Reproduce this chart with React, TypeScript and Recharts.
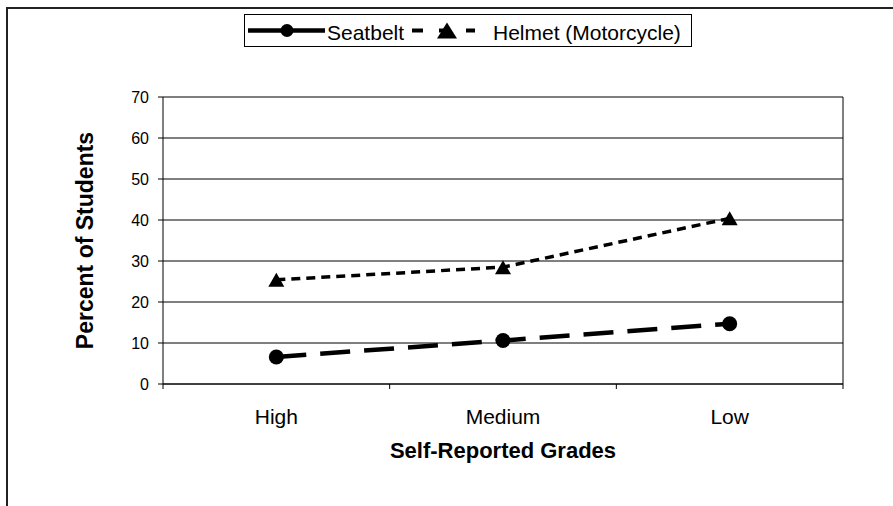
import React from 'react';
import { LineChart, Line, XAxis, YAxis, CartesianGrid, Legend } from 'recharts';

const grades = ['High', 'Medium', 'Low'];
const seatbelt = [6.6, 10.6, 14.7];
const helmet = [25.4, 28.5, 40.4];
const yTicks = [0, 10, 20, 30, 40, 50, 60, 70];
const seriesNames = ['Seatbelt', 'Helmet (Motorcycle)'];

const data = grades.map((g, i) => ({ grade: g, seatbelt: seatbelt[i], helmet: helmet[i] }));

const FONT = '"Liberation Sans", Arial, sans-serif';
const W = 893;
const H = 506;
const MARGIN = { top: 97, right: 50, left: 0, bottom: 0 };
const Y_AXIS_W = 163;
const X_AXIS_H = 122;

// category labels centred, tick marks on the band edges
const GradeTick = (props: any) => {
  const { x, y, payload, index, visibleTicksCount } = props;
  const plotW = props.width || W - Y_AXIS_W - MARGIN.right;
  const band = plotW / visibleTicksCount;
  const edge = x - band / 2;
  return (
    <g>
      <line x1={edge} x2={edge} y1={y} y2={y + 5} stroke="#000" />
      {index === visibleTicksCount - 1 && (
        <line x1={x + band / 2} x2={x + band / 2} y1={y} y2={y + 5} stroke="#000" />
      )}
      <text x={x} y={y + 40} textAnchor="middle" fontSize={21} fontFamily={FONT} fill="#000">
        {payload.value}
      </text>
    </g>
  );
};

const TriangleDot = (props: any) => {
  const { cx, cy, index } = props;
  if (cx == null || cy == null) return null;
  return (
    <polygon
      key={`tri-${index}`}
      points={`${cx},${cy - 7} ${cx + 8},${cy + 7} ${cx - 8},${cy + 7}`}
      fill="#000"
    />
  );
};

const LegendBox = () => (
  <svg width={448} height={33} style={{ display: 'block' }}>
    <rect x={0.5} y={0.5} width={447} height={32} fill="#fff" stroke="#000" />
    {/* Seatbelt */}
    <line x1={4} x2={81} y1={16.5} y2={16.5} stroke="#000" strokeWidth={4.5} />
    <circle cx={43} cy={16.5} r={6.5} fill="#000" />
    <text x={83} y={25.5} fontSize={21} fontFamily={FONT} fill="#000">{seriesNames[0]}</text>
    {/* Helmet */}
    <line x1={168} x2={231} y1={16.5} y2={16.5} stroke="#000" strokeWidth={4} strokeDasharray="11 16" />
    <polygon points="203,8.5 213,24.5 193,24.5" fill="#000" />
    <text x={249} y={25.5} fontSize={21} fontFamily={FONT} fill="#000">{seriesNames[1]}</text>
  </svg>
);

export default function App() {
  return (
    <div style={{ position: 'absolute', left: 0, top: 0, width: W, height: H, background: '#fff' }}>
      <div
        style={{
          position: 'absolute',
          left: 6,
          top: 7,
          right: 0,
          bottom: 0,
          borderTop: '2px solid #222',
          borderLeft: '2px solid #222',
        }}
      />
      <LineChart width={W} height={H} data={data} margin={MARGIN}>
        <CartesianGrid
          stroke="#000"
          verticalCoordinatesGenerator={({ offset }: any) => [offset.left + offset.width]}
        />
        <XAxis
          dataKey="grade"
          scale="band"
          height={X_AXIS_H}
          interval={0}
          axisLine={{ stroke: '#000' }}
          tickLine={false}
          tickSize={0}
          tickMargin={0}
          tick={<GradeTick />}
          label={{
            value: 'Self-Reported Grades',
            position: 'insideBottom',
            offset: 48,
            style: { fontSize: 22, fontWeight: 'bold', fontFamily: FONT, fill: '#000' },
          }}
        />
        <YAxis
          domain={[0, 70]}
          ticks={yTicks}
          interval={0}
          width={Y_AXIS_W}
          tickSize={5}
          tickMargin={9}
          axisLine={{ stroke: '#000' }}
          tickLine={{ stroke: '#000' }}
          tick={{ fontSize: 16, fill: '#000', fontFamily: FONT }}
          label={{
            value: 'Percent of Students',
            angle: -90,
            position: 'insideLeft',
            offset: 85,
            style: { textAnchor: 'middle', fontSize: 23, fontWeight: 'bold', fontFamily: FONT, fill: '#000' },
          }}
        />
        <Legend
          layout="horizontal"
          verticalAlign="middle"
          align="center"
          content={<LegendBox />}
          wrapperStyle={{ top: 14, left: 244, width: 448, height: 33 }}
        />
        <Line
          dataKey="seatbelt"
          name={seriesNames[0]}
          stroke="#000"
          strokeWidth={4.5}
          strokeDasharray="30 14"
          dot={{ r: 7.5, fill: '#000', stroke: 'none' }}
          activeDot={false}
          isAnimationActive={false}
        />
        <Line
          dataKey="helmet"
          name={seriesNames[1]}
          stroke="#000"
          strokeWidth={3.5}
          strokeDasharray="9 6"
          dot={<TriangleDot />}
          activeDot={false}
          isAnimationActive={false}
        />
      </LineChart>
    </div>
  );
}
